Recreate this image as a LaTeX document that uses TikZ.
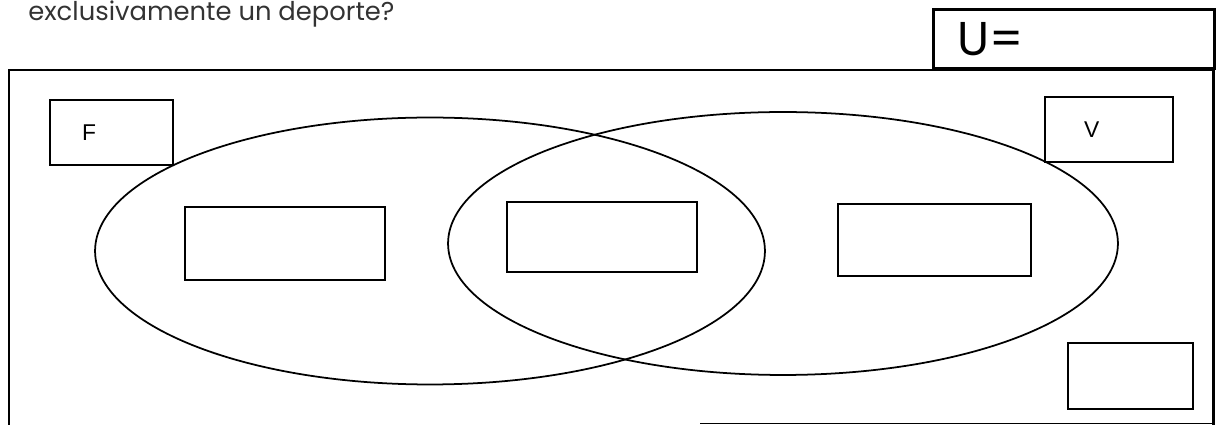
\documentclass[tikz,border=0pt]{standalone}
\usepackage{fontspec}
\setmainfont{Liberation Sans}
\newfontfamily\gothic{Poppins}
\usetikzlibrary{positioning,shapes.geometric}

\begin{document}
\begin{tikzpicture}[x=0.02cm,y=-0.02cm,
  blank/.style={draw,line width=1.4pt,inner sep=0pt,minimum width=#1},
  blank/.default=3.9cm,
  set/.style={draw,ellipse,line width=1pt,inner sep=0pt,minimum width=13.4cm}]
\useasboundingbox (0,0) rectangle (1218,425);
% question text, cut at the top
\node[anchor=base west,inner sep=0pt,text=black!80] (quest) at (28,21) {\gothic\fontsize{14.7}{17}\selectfont exclusivamente un deporte?};
% universe frame
\draw[line width=1.7pt] (9,425) -- (9,70) -- (1213,70) -- (1213,425);
\draw[line width=0.8pt] (700,423.5) -- (1213,423.5);
\node[blank=5.62cm,minimum height=1.18cm,anchor=north west,line width=1.5pt] (ubox) at (932,8) {};
\node[right=0.5cm of ubox.west,inner sep=0pt] (ulab) {\gothic\fontsize{27}{31}\selectfont U=};
% sets
\node[set,minimum height=5.34cm] (setF) at (430,251) {};
\node[set,minimum height=5.26cm] (setV) at (783,243.5) {};
% label boxes
\node[blank=2.46cm,minimum height=1.3cm] (fbox) at (111.5,132.5) {};
\node[right=0.66cm of fbox.west,inner sep=0pt] (flab) {\fontsize{13}{15}\selectfont F};
\node[blank=2.56cm,minimum height=1.3cm] (vbox) at (1109,129.5) {};
\node[right=0.8cm of vbox.west,inner sep=0pt] (vlab) {\fontsize{13}{15}\selectfont V};
% answer boxes
\node[blank=4cm,minimum height=1.46cm] (onlyF) at (285,243.5) {};
\node[blank=3.8cm,minimum height=1.4cm] (both) at (602,237) {};
\node[blank=3.86cm,minimum height=1.44cm] (onlyV) at (934.5,240) {};
\node[blank=2.5cm,minimum height=1.32cm] (none) at (1130.5,376) {};
\end{tikzpicture}
\end{document}
